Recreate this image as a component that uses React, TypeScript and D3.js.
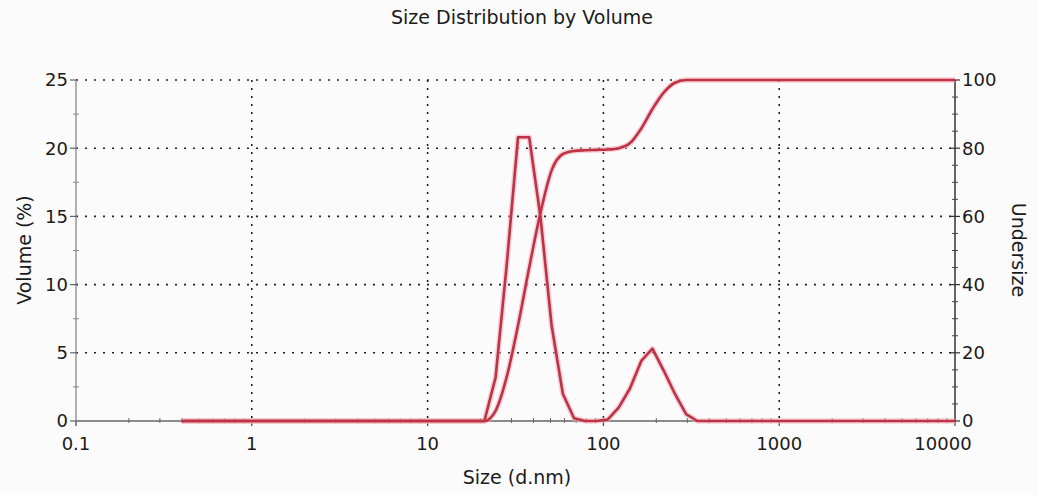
import React from "react";
import * as d3 from "d3";

// Size bins (d.nm)
const sizes = [0.4, 21.04, 24.36, 28.21, 32.67, 37.84, 43.82, 50.75, 58.77, 68.06, 78.82, 91.28, 105.7, 122.4, 141.8, 164.2, 190.1, 220.2, 255.0, 295.3, 342.0, 10000];
// Volume (%) — left axis
const volume = [0, 0, 3.2, 11.5, 20.8, 20.8, 15.0, 7.0, 2.0, 0.2, 0, 0, 0.1, 1.0, 2.4, 4.4, 5.3, 3.7, 2.0, 0.5, 0, 0];
// Undersize (%) — right axis
const undersize = [0, 0, 3.0, 13, 28, 45, 61, 73.5, 78.3, 79.2, 79.4, 79.5, 79.6, 80.0, 81.5, 85.8, 91.5, 96.3, 99.2, 100, 100, 100];

const xTicks = [0.1, 1, 10, 100, 1000, 10000];
const xTickLabels = ["0.1", "1", "10", "100", "1000", "10000"];
const yLeftTicks = [0, 5, 10, 15, 20, 25];
const yRightTicks = [0, 20, 40, 60, 80, 100];

const title = "Size Distribution by Volume";
const xTitle = "Size (d.nm)";
const yLeftTitle = "Volume (%)";
const yRightTitle = "Undersize";

const W = 1037;
const H = 495;
const L = 76, R = 955, T = 80, B = 421;
const FONT = "'DejaVu Sans', Arial, sans-serif";
const LINE = "#be3246";

export default function App() {
  const x = d3.scaleLog().domain([0.1, 10000]).range([L, R]);
  const yL = d3.scaleLinear().domain([0, 25]).range([B, T]);
  const yR = d3.scaleLinear().domain([0, 100]).range([B, T]);

  const volPts = sizes.map((s, i) => [s, volume[i]] as [number, number]);
  const undPts = sizes.map((s, i) => [s, undersize[i]] as [number, number]);

  const volLine = d3.line<[number, number]>().x(d => x(d[0])).y(d => yL(d[1]))(volPts) || "";
  const undLine = d3.line<[number, number]>().x(d => x(d[0])).y(d => yR(d[1])).curve(d3.curveMonotoneX)(undPts) || "";

  const minorX: number[] = [];
  for (let e = -1; e < 4; e++) {
    for (let k = 2; k <= 9; k++) minorX.push(k * Math.pow(10, e));
  }
  const minorYL = d3.range(2.5, 25, 5);
  const minorYR = d3.range(0, 100, 5).filter(v => v % 20 !== 0);

  return (
    <div style={{ position: "absolute", left: 0, top: 0 }}>
      <svg width={W} height={H} style={{ display: "block", background: "#fbfbfc" }}>
        {/* title */}
        <text x={522} y={24} textAnchor="middle" fontFamily={FONT} fontSize={19} fill="#1a1a1a">{title}</text>

        {/* horizontal grid */}
        {yLeftTicks.filter(t => t > 0).map(t => (
          <line key={"hg" + t} x1={L} x2={R} y1={yL(t)} y2={yL(t)} stroke="#222" strokeWidth={1.6} strokeDasharray="2,7" />
        ))}
        {/* vertical grid */}
        {xTicks.slice(1, -1).map(t => (
          <line key={"vg" + t} x1={x(t)} x2={x(t)} y1={T} y2={B} stroke="#222" strokeWidth={1.6} strokeDasharray="2,6" />
        ))}

        {/* axes */}
        <line x1={L} x2={L} y1={T} y2={B} stroke="#888" strokeWidth={1.3} />
        <line x1={L} x2={R} y1={B} y2={B} stroke="#666" strokeWidth={1.3} />
        <line x1={R} x2={R} y1={T} y2={B} stroke="#333" strokeWidth={1.5} />

        {/* x ticks */}
        {minorX.map((t, i) => (
          <line key={"mx" + i} x1={x(t)} x2={x(t)} y1={B - 3} y2={B + 2} stroke="#666" strokeWidth={1} />
        ))}
        {xTicks.map((t, i) => (
          <g key={"xt" + t}>
            <line x1={x(t)} x2={x(t)} y1={B} y2={B + 5} stroke="#444" strokeWidth={1.2} />
            <text x={x(t) - (i === xTicks.length - 1 ? 12 : 0)} y={450} textAnchor="middle" fontFamily={FONT} fontSize={18} fill="#1a1a1a">{xTickLabels[i]}</text>
          </g>
        ))}

        {/* left ticks */}
        {minorYL.map(t => (
          <line key={"myl" + t} x1={L - 3} x2={L + 3} y1={yL(t)} y2={yL(t)} stroke="#888" strokeWidth={1} />
        ))}
        {yLeftTicks.map(t => (
          <g key={"yl" + t}>
            <line x1={L - 6} x2={L} y1={yL(t)} y2={yL(t)} stroke="#666" strokeWidth={1.2} />
            <text x={68} y={yL(t)} dy="0.36em" textAnchor="end" fontFamily={FONT} fontSize={18} fill="#1a1a1a">{t}</text>
          </g>
        ))}

        {/* right ticks */}
        {minorYR.map(t => (
          <line key={"myr" + t} x1={R - 3} x2={R + 3} y1={yR(t)} y2={yR(t)} stroke="#444" strokeWidth={1} />
        ))}
        {yRightTicks.map(t => (
          <g key={"yr" + t}>
            <line x1={R - 5} x2={R + 5} y1={yR(t)} y2={yR(t)} stroke="#333" strokeWidth={1.2} />
            <text x={962} y={yR(t)} dy="0.36em" textAnchor="start" fontFamily={FONT} fontSize={18} fill="#1a1a1a">{t}</text>
          </g>
        ))}

        {/* series halo + line */}
        <path d={volLine} fill="none" stroke="#f2b3bb" strokeWidth={5.5} strokeLinejoin="round" opacity={0.6} />
        <path d={undLine} fill="none" stroke="#f2b3bb" strokeWidth={5.5} strokeLinejoin="round" opacity={0.6} />
        <path d={volLine} fill="none" stroke={LINE} strokeWidth={2.6} strokeLinejoin="round" />
        <path d={undLine} fill="none" stroke={LINE} strokeWidth={2.6} strokeLinejoin="round" />

        {/* axis titles */}
        <text x={517} y={484} textAnchor="middle" fontFamily={FONT} fontSize={19} fill="#1a1a1a">{xTitle}</text>
        <text transform="translate(24,250) rotate(-90)" textAnchor="middle" dy="0.36em" fontFamily={FONT} fontSize={19} fill="#1a1a1a">{yLeftTitle}</text>
        <text transform="translate(1019,250) rotate(90)" textAnchor="middle" dy="0.36em" fontFamily={FONT} fontSize={19} fill="#1a1a1a">{yRightTitle}</text>
      </svg>
    </div>
  );
}
